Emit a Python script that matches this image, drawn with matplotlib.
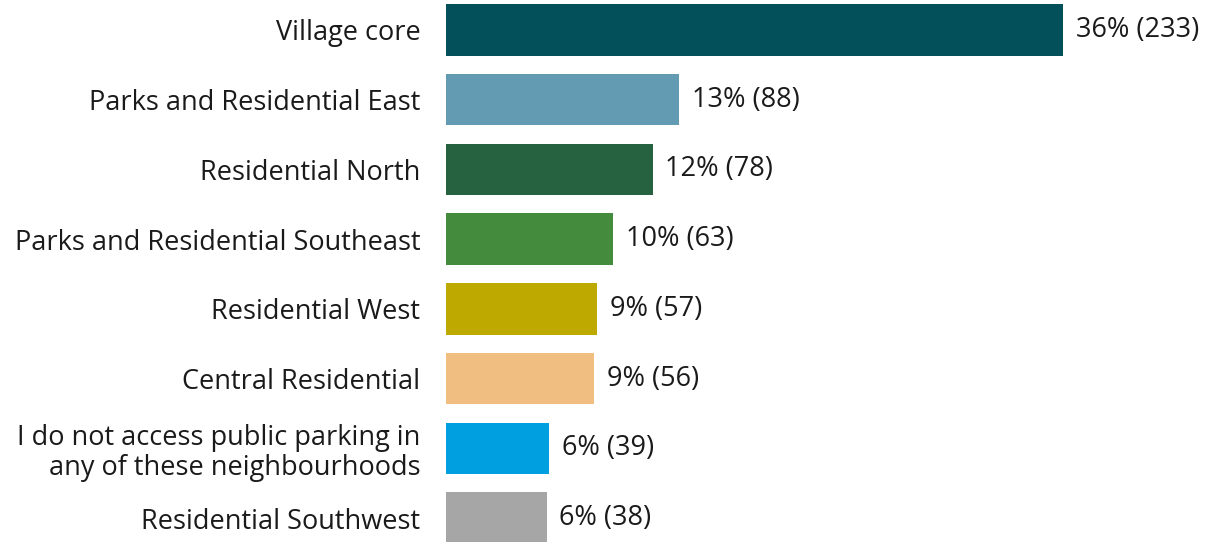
import matplotlib
matplotlib.use("Agg")
import matplotlib.pyplot as plt

categories = ["Village core", "Parks and Residential East", "Residential North",
              "Parks and Residential Southeast", "Residential West", "Central Residential",
              "I do not access public parking in\nany of these neighbourhoods", "Residential Southwest"]
percents = [36, 13, 12, 10, 9, 9, 6, 6]
counts = [233, 88, 78, 63, 57, 56, 39, 38]
colors = ["#03505A", "#639CB2", "#266140", "#458B3E", "#BDA900", "#EFBE80", "#009FDF", "#A6A6A6"]

plt.rcParams['font.family'] = ['Open Sans', 'DejaVu Sans']

W, H = 1214, 542
fig = plt.figure(figsize=(W/100, H/100), dpi=100)
left = 446 / W
ax = fig.add_axes([left, 0, 1 - left, 1])
ypos = list(range(len(categories)))
ax.barh(ypos, counts, height=0.74, color=colors)
ax.set_ylim(7 + 24/70, -30/70)
ax.set_xlim(0, (W - 446) / 2.648)
for y, c, p in zip(ypos, counts, percents):
    ax.text(c + 4.8, y, f"{p}% ({c})", va="center", ha="left", fontsize=19.5, color="#1a1a1a")
ax.set_yticks(ypos)
ax.set_yticklabels(categories, fontsize=19.5, color="#1a1a1a", linespacing=1.12)
ax.tick_params(axis='y', length=0, pad=18.5)
ax.set_xticks([])
for s in ax.spines.values():
    s.set_visible(False)
fig.savefig("out.png", dpi=100)
